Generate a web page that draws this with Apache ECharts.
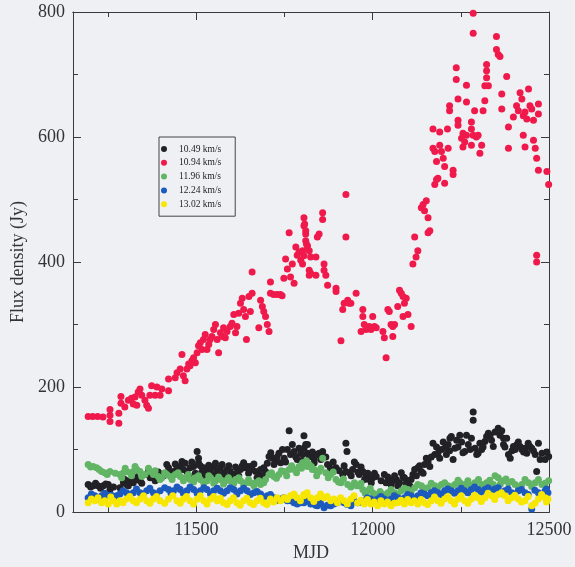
<!DOCTYPE html>
<html>
<head>
<meta charset="utf-8">
<script src="https://cdn.jsdelivr.net/npm/echarts@6/dist/echarts.min.js"></script>
<style>
  html, body { margin: 0; padding: 0; background: #eff0f4; }
  #chart { width: 575px; height: 567px; }
</style>
</head>
<body>
<div id="chart"></div>
<script>
// Maser component velocities (legend labels)
const seriesNames = ['10.49 km/s', '10.94 km/s', '11.96 km/s', '12.24 km/s', '13.02 km/s'];
const seriesColors = ['#222226', '#ef1a4b', '#62b565', '#1c5bbd', '#f6e600'];

// Axis tick values
const xMajorTicks = [11500, 12000, 12500];
const xMinorTicks = [11250, 11750, 12250];

// [MJD, flux density (Jy)] per component
const v1049 = [
  [11193,44],[11207,42],[11221,42],[11236,42],[11250,44],[11255,36],[11283,39],[11293,47],[11302,44],[11312,50],
  [11321,47],[11331,52],[11340,50],[11359,60],[11369,55],[11378,57],[11388,55],[11397,60],[11421,71],[11426,63],
  [11435,65],[11445,71],[11454,73],[11459,81],[11463,68],[11473,65],[11482,71],[11492,73],[11502,97],[11506,86],
  [11506,79],[11516,65],[11521,71],[11530,65],[11540,68],[11549,73],[11559,65],[11568,71],[11577,63],[11587,68],
  [11596,65],[11606,60],[11615,63],[11625,68],[11634,79],[11639,71],[11644,73],[11653,73],[11658,68],[11668,65],
  [11677,60],[11687,57],[11691,71],[11696,65],[11706,89],[11715,86],[11725,81],[11734,94],[11739,79],[11749,86],
  [11758,100],[11763,130],[11767,92],[11777,97],[11786,84],[11796,94],[11805,122],[11805,102],[11815,108],[11815,94],
  [11824,89],[11834,84],[11843,92],[11810,108],[11801,92],[11820,89],[11834,79],[11848,94],[11858,97],[11872,76],
  [11896,71],[11915,60],[11924,65],[11924,110],[11927,97],[11934,63],[11943,68],[11953,76],[11962,60],[11972,65],
  [11981,57],[11991,52],[12000,55],[12010,57],[12033,60],[12038,47],[12048,52],[12057,50],[12067,52],[12076,47],
  [12081,63],[12090,55],[12100,50],[12105,42],[12109,52],[12119,68],[12128,71],[12138,65],[12147,76],[12157,81],
  [12162,73],[12171,110],[12176,92],[12185,94],[12195,100],[12204,102],[12214,108],[12219,118],[12223,121],[12228,84],
  [12233,102],[12238,115],[12247,123],[12261,97],[12266,123],[12276,100],[12285,160],[12285,147],[12290,102],[12295,92],
  [12299,94],[12309,100],[12318,113],[12323,121],[12328,126],[12333,123],[12337,115],[12356,134],[12361,123],[12371,118],
  [12371,108],[12380,118],[12385,92],[12390,86],[12399,105],[12409,108],[12418,105],[12423,100],[12432,102],[12437,94],
  [12446,105],[12451,102],[12461,92],[12465,65],[12470,110],[12475,84],[12489,84],[12499,89],
  [11200,40],[11214,46],[11228,38],[11243,45],[11265,40],[11297,52],[11307,42],[11326,57],[11345,46],[11364,66],
  [11383,50],[11392,64],[11407,58],[11416,76],[11431,58],[11440,77],[11449,61],[11468,78],[11478,58],[11487,80],
  [11497,62],[11511,74],[11525,58],[11535,75],[11545,60],[11554,78],[11563,58],[11573,76],[11582,57],[11592,74],
  [11601,56],[11611,72],[11620,58],[11630,74],[11648,62],[11663,77],[11672,55],[11682,68],[11701,78],[11711,95],
  [11720,76],[11729,88],[11744,100],[11753,80],[11772,108],[11782,88],[11791,102],[11800,82],[11829,96],[11853,84],
  [11867,88],[11880,70],[11888,80],[11905,66],[11919,74],[11939,58],[11948,80],[11958,64],[11967,72],[11977,52],
  [11986,62],[11996,47],[12005,62],[12024,50],[12043,56],[12052,44],[12062,58],[12071,42],[12086,56],[12095,46],
  [12114,60],[12124,58],[12133,74],[12143,62],[12152,86],[12166,88],[12181,104],[12190,86],[12200,112],[12209,92],
  [12218,98],[12242,104],[12252,112],[12256,95],[12271,108],[12280,118],[12304,110],[12313,104],[12342,105],[12347,128],
  [12366,130],[12375,104],[12395,98],[12404,100],[12413,112],[12428,96],[12441,110],[12456,98],[12480,94],[12494,96]
];

const v1094 = [
  [11193,153],[11206,153],[11220,153],[11235,152],[11255,164],[11255,155],[11255,145],[11280,158],[11280,142],[11286,185],
  [11286,174],[11297,168],[11307,179],[11316,182],[11321,173],[11326,184],[11331,171],[11335,192],[11340,197],[11345,187],
  [11354,179],[11359,171],[11364,166],[11368,187],[11373,202],[11383,187],[11388,200],[11397,187],[11402,197],[11421,194],
  [11421,213],[11440,215],[11445,223],[11454,229],[11459,252],[11463,218],[11468,210],[11473,229],[11478,237],[11482,234],
  [11487,242],[11492,247],[11497,239],[11502,255],[11506,266],[11511,271],[11516,260],[11520,276],[11525,284],[11530,260],
  [11535,268],[11539,276],[11544,281],[11549,292],[11554,300],[11559,276],[11563,255],[11568,287],[11573,281],[11577,295],
  [11582,279],[11587,289],[11596,297],[11601,302],[11606,316],[11611,287],[11615,297],[11620,318],[11625,334],[11630,342],
  [11634,324],[11639,313],[11642,276],[11649,345],[11653,321],[11658,350],[11658,384],[11677,295],[11682,339],[11687,329],
  [11691,321],[11696,313],[11701,300],[11706,289],[11710,368],[11710,350],[11719,348],[11729,348],[11738,348],[11743,346],
  [11748,374],[11753,405],[11758,389],[11763,447],[11767,376],[11772,397],[11777,366],[11782,424],[11786,411],[11791,416],
  [11796,403],[11801,397],[11805,471],[11805,458],[11810,445],[11810,434],[11815,426],[11820,418],[11820,387],[11820,379],
  [11824,408],[11839,379],[11843,440],[11807,461],[11810,450],[11812,429],[11801,418],[11805,410],[11815,421],[11824,382],
  [11839,408],[11848,445],[11858,479],[11858,468],[11862,397],[11862,387],[11867,379],[11872,363],[11896,358],[11896,353],
  [11910,274],[11915,324],[11919,334],[11924,508],[11924,440],[11929,339],[11933,334],[11938,334],[11953,350],[11967,289],
  [11972,324],[11972,313],[11976,300],[11981,292],[11990,297],[11995,292],[12000,313],[12005,297],[12010,295],[12029,289],
  [12033,279],[12038,247],[12043,324],[12047,321],[12052,300],[12057,297],[12062,300],[12057,281],[12071,329],[12076,355],
  [12081,350],[12086,345],[12090,334],[12095,342],[12086,313],[12100,316],[12109,297],[12114,397],[12123,408],[12128,418],
  [12119,440],[12138,487],[12143,492],[12147,482],[12152,498],[12157,471],[12162,450],[12157,447],[12171,613],[12171,582],
  [12176,577],[12181,561],[12176,524],[12181,532],[12185,534],[12190,608],[12190,587],[12195,577],[12200,566],[12204,553],
  [12204,526],[12212,613],[12214,582],[12218,650],[12218,642],[12228,547],[12228,540],[12237,711],[12237,692],[12242,661],
  [12242,627],[12242,619],[12252,598],[12256,606],[12256,584],[12261,592],[12266,603],[12266,656],[12266,683],[12280,624],
  [12280,613],[12280,587],[12285,603],[12289,642],[12294,600],[12299,603],[12304,574],[12309,587],[12313,642],[12285,798],
  [12285,766],[12318,658],[12318,682],[12323,716],[12323,706],[12323,695],[12328,682],[12351,761],[12351,740],[12356,732],
  [12361,729],[12366,669],[12366,645],[12380,697],[12385,616],[12385,582],[12399,632],[12408,650],[12413,642],[12418,671],
  [12423,661],[12427,634],[12432,640],[12437,629],[12442,677],[12446,650],[12451,645],[12456,627],[12470,653],[12470,637],
  [12427,603],[12432,584],[12456,595],[12461,582],[12465,566],[12470,547],[12494,545],[12499,524],[12465,411],[12465,400]
];

const v1196 = [
  [11193,76],[11207,73],[11217,71],[11231,65],[11240,63],[11255,65],[11283,60],[11293,63],[11302,65],[11312,63],
  [11321,65],[11331,68],[11340,65],[11354,60],[11369,65],[11378,60],[11392,57],[11402,55],[11416,60],[11426,57],
  [11440,60],[11454,57],[11468,55],[11482,52],[11497,55],[11511,52],[11530,50],[11540,55],[11554,50],[11568,52],
  [11582,50],[11596,50],[11611,52],[11625,50],[11639,47],[11653,47],[11668,47],[11682,44],[11691,47],[11706,60],
  [11720,57],[11734,60],[11749,65],[11763,68],[11777,68],[11791,73],[11805,79],[11820,76],[11834,68],[11848,65],
  [11801,79],[11815,73],[11829,68],[11843,65],[11858,86],[11867,63],[11881,60],[11896,52],[11910,47],[11929,44],
  [11948,47],[11962,42],[11972,36],[11986,34],[12000,31],[12014,28],[12029,28],[12043,31],[12062,31],[12081,34],
  [12100,36],[12119,39],[12138,42],[12157,39],[12176,42],[12195,44],[12214,42],[12233,44],[12247,47],[12261,44],
  [12276,42],[12290,47],[12309,44],[12323,47],[12342,44],[12356,55],[12371,50],[12385,47],[12404,44],[12423,44],
  [12442,47],[12461,47],[12480,44],[12499,50],
  [11200,72],[11224,68],[11247,60],[11270,62],[11288,55],[11298,70],[11316,58],[11326,73],[11345,57],[11364,70],
  [11383,66],[11397,52],[11410,63],[11431,52],[11448,63],[11463,50],[11477,60],[11492,48],[11506,58],[11521,46],
  [11535,58],[11549,46],[11563,56],[11577,45],[11591,55],[11606,46],[11620,55],[11634,43],[11648,52],[11663,42],
  [11677,50],[11696,52],[11713,63],[11727,54],[11741,66],[11756,58],[11770,74],[11784,63],[11798,70],[11812,82],
  [11826,73],[11841,58],[11853,70],[11874,55],[11888,64],[11903,48],[11917,53],[11938,40],[11955,42],[11967,46],
  [11979,30],[11993,38],[12007,26],[12021,33],[12036,24],[12052,36],[12071,28],[12090,38],[12109,33],[12128,44],
  [12147,38],[12166,46],[12185,40],[12204,47],[12223,40],[12242,51],[12256,41],[12270,50],[12283,43],[12300,52],
  [12316,42],[12332,51],[12347,58],[12362,45],[12378,53],[12395,49],[12413,40],[12432,52],[12451,41],[12470,52],
  [12489,46]
];

const v1224 = [
  [11193,23],[11212,26],[11231,26],[11250,26],[11264,21],[11283,29],[11302,31],[11321,31],[11340,31],[11359,34],
  [11378,31],[11397,34],[11421,36],[11435,34],[11454,36],[11473,34],[11492,36],[11511,34],[11530,36],[11549,34],
  [11568,34],[11587,34],[11606,36],[11625,34],[11644,34],[11663,31],[11682,29],[11701,26],[11720,23],[11739,21],
  [11758,18],[11777,15],[11796,15],[11815,18],[11834,15],[11848,13],[11805,15],[11824,13],[11843,10],[11862,7],
  [11881,10],[11900,15],[11919,15],[11938,10],[11957,15],[11976,18],[11995,21],[12014,21],[12033,21],[12052,21],
  [12071,23],[12090,23],[12109,26],[12128,26],[12147,29],[12166,31],[12185,31],[12204,34],[12223,34],[12242,34],
  [12261,34],[12280,36],[12299,36],[12318,36],[12337,34],[12356,39],[12375,34],[12394,31],[12413,34],[12432,31],
  [12451,5],[12470,31],[12489,34],[12497,31],
  [11202,29],[11221,22],[11240,30],[11259,27],[11274,26],[11292,34],[11311,27],[11330,37],[11350,29],[11368,38],
  [11387,29],[11410,39],[11428,30],[11445,40],[11463,30],[11482,40],[11502,30],[11521,39],[11540,29],[11559,38],
  [11577,30],[11596,39],[11615,29],[11634,38],[11653,28],[11672,33],[11691,24],[11710,28],[11729,19],[11748,23],
  [11767,18],[11786,13],[11805,19],[11824,17],[11838,11],[11852,14],[11871,11],[11890,13],[11909,18],[11928,12],
  [11947,18],[11966,16],[11985,23],[12004,18],[12023,25],[12042,18],[12061,26],[12080,20],[12099,28],[12118,22],
  [12137,31],[12156,26],[12175,34],[12194,28],[12213,37],[12232,30],[12251,38],[12270,31],[12289,40],[12308,32],
  [12327,39],[12346,37],[12365,30],[12384,37],[12403,29],[12422,36],[12441,28],[12460,35],[12479,28],[12493,37]
];

const v1302 = [
  [11193,15],[11212,18],[11231,15],[11250,13],[11264,18],[11283,18],[11302,21],[11321,18],[11340,21],[11359,18],
  [11378,21],[11397,18],[11421,21],[11445,18],[11463,21],[11482,18],[11502,21],[11521,18],[11540,21],[11559,18],
  [11577,15],[11596,18],[11615,15],[11634,18],[11653,15],[11672,18],[11691,15],[11710,21],[11729,23],[11749,23],
  [11767,26],[11786,23],[11805,26],[11824,23],[11843,23],[11805,28],[11862,23],[11881,18],[11900,15],[11919,18],
  [11938,21],[11957,15],[11976,13],[11995,13],[12014,10],[12033,13],[12052,10],[12071,15],[12090,13],[12109,15],
  [12128,13],[12147,15],[12166,18],[12185,18],[12204,21],[12223,18],[12242,21],[12261,18],[12280,21],[12299,23],
  [12318,23],[12337,26],[12356,28],[12375,26],[12394,23],[12413,21],[12432,18],[12451,10],[12470,21],[12489,23],
  [12497,21],
  [11202,21],[11221,23],[11240,18],[11257,24],[11274,13],[11292,15],[11311,25],[11330,15],[11350,26],[11368,14],
  [11387,25],[11410,14],[11433,26],[11454,14],[11472,25],[11492,13],[11511,26],[11530,13],[11549,25],[11568,22],
  [11587,12],[11605,23],[11624,11],[11643,22],[11662,12],[11681,22],[11700,12],[11719,16],[11739,18],[11758,20],
  [11777,29],[11795,18],[11814,31],[11833,17],[11852,29],[11871,25],[11890,21],[11909,23],[11928,13],[11947,26],
  [11966,19],[11985,20],[12004,16],[12023,18],[12042,16],[12061,14],[12080,19],[12099,20],[12118,18],[12137,20],
  [12156,12],[12175,24],[12194,14],[12213,25],[12232,13],[12251,26],[12270,14],[12289,27],[12308,17],[12327,30],
  [12346,20],[12365,31],[12384,18],[12403,27],[12422,16],[12441,25],[12460,14],[12479,28],[12493,16]
];

const seriesData = [v1049, v1094, v1196, v1224, v1302];

const serif = '"Liberation Serif", "DejaVu Serif", serif';
const axisColor = '#3a3a3a';
const X_MIN = 11150, X_MAX = 12500;

function plainNumber(v) { return String(v); }

function xAxisDef(position, ticks, len, showLabels, extra) {
  return Object.assign({
    type: 'value', position: position, min: X_MIN, max: X_MAX,
    axisLine: { show: true, lineStyle: { color: axisColor, width: 1 } },
    axisTick: { show: true, inside: true, length: len, customValues: ticks, lineStyle: { color: axisColor } },
    axisLabel: showLabels
      ? { show: true, customValues: xMajorTicks, formatter: plainNumber, color: '#333', fontFamily: serif, fontSize: 18, margin: 9 }
      : { show: false },
    splitLine: { show: false }
  }, extra || {});
}

function yAxisDef(position, showLabels, extra) {
  return Object.assign({
    type: 'value', position: position, min: 0, max: 800, interval: 200,
    axisLine: { show: true, lineStyle: { color: axisColor, width: 1 } },
    axisTick: { show: true, inside: true, length: 8, lineStyle: { color: axisColor } },
    minorTick: { show: true, splitNumber: 2, length: 5, lineStyle: { color: axisColor } },
    axisLabel: showLabels
      ? { show: true, formatter: plainNumber, color: '#333', fontFamily: serif, fontSize: 18, margin: 8 }
      : { show: false },
    splitLine: { show: false }
  }, extra || {});
}

const chart = echarts.init(document.getElementById('chart'), null, { renderer: 'canvas' });

chart.setOption({
  backgroundColor: '#eff0f4',
  animation: false,
  grid: { left: 73, right: 26, top: 12, bottom: 49, containLabel: false },
  xAxis: [
    xAxisDef('bottom', xMajorTicks, 8, true, {
      name: 'MJD', nameLocation: 'middle', nameGap: 26,
      nameTextStyle: { color: '#333', fontFamily: serif, fontSize: 18 }
    }),
    xAxisDef('bottom', xMinorTicks, 5, false),
    xAxisDef('top', xMajorTicks, 8, false),
    xAxisDef('top', xMinorTicks, 5, false)
  ],
  yAxis: [
    yAxisDef('left', true, {
      name: 'Flux density (Jy)', nameLocation: 'middle', nameGap: 46,
      nameTextStyle: { color: '#333', fontFamily: serif, fontSize: 18 }
    }),
    yAxisDef('right', false)
  ],
  legend: {
    orient: 'vertical', left: 159, top: 137,
    padding: [7, 14, 7, 2],
    borderColor: '#444', borderWidth: 1, borderRadius: 0,
    backgroundColor: '#eff0f4',
    icon: 'circle', itemWidth: 20, itemHeight: 6, itemGap: 3.8,
    textStyle: { color: '#222', fontFamily: serif, fontSize: 9.5, lineHeight: 10 },
    data: seriesNames
  },
  series: seriesNames.map(function (name, i) {
    return {
      name: name, type: 'scatter', xAxisIndex: 0, yAxisIndex: 0,
      data: seriesData[i], symbol: 'circle', symbolSize: 7,
      itemStyle: { color: seriesColors[i], opacity: 1 },
      z: 2 + i
    };
  })
});
</script>
</body>
</html>
